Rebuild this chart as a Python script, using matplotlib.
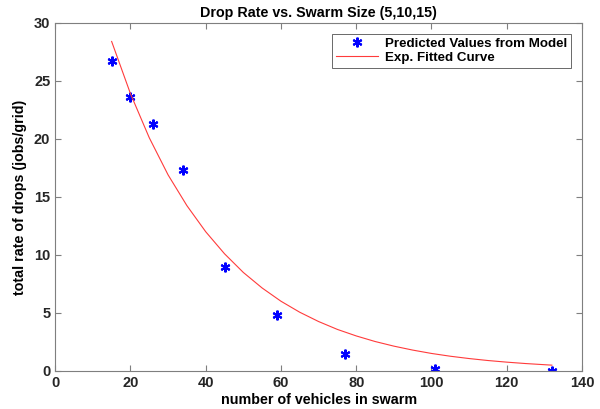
import numpy as np
import matplotlib.pyplot as plt

# predicted values
swarm_size = [15, 20, 26, 34, 45, 59, 77, 101, 132]
drop_rate = [26.7, 23.6, 21.3, 17.3, 8.95, 4.8, 1.44, 0.2, 0.02]

# fitted exponential curve, sampled off the figure
fit_x = [15, 20, 25, 30, 35, 40, 45, 50, 55, 60, 65, 70, 75, 80,
         85, 90, 95, 100, 105, 110, 115, 120, 125, 132]
fit_y = [28.4, 23.9, 20.1, 16.9, 14.25, 12.0, 10.1, 8.49, 7.15, 6.01, 5.06, 4.26,
         3.58, 3.02, 2.54, 2.14, 1.80, 1.51, 1.27, 1.07, 0.90, 0.76, 0.64, 0.50]

plt.rcParams['font.family'] = ['Liberation Sans', 'DejaVu Sans']
plt.rcParams['font.weight'] = 'bold'
plt.rcParams['font.size'] = 10

fig = plt.figure(figsize=(6, 4.09), dpi=100)
ax = fig.add_axes([0.092, 0.093, 0.878, 0.851])

ax.plot(swarm_size, drop_rate, linestyle='none', marker=(6, 2, 0), markersize=7,
        markeredgewidth=1.5, color='#0000ff', label='Predicted Values from Model')
ax.plot(fit_x, fit_y, color='#ff3b3b', linewidth=0.8, label='Exp. Fitted Curve')

ax.set_xlim(0, 140)
ax.set_ylim(0, 30)
ax.set_xticks(np.arange(0, 141, 20))
ax.set_yticks(np.arange(0, 31, 5))

for s in ax.spines.values():
    s.set_color('#7f7f7f')
    s.set_linewidth(0.8)
ax.tick_params(direction='in', top=True, right=True, length=4, width=0.8,
               color='#7f7f7f', labelcolor='#262626', labelsize=10.5)

ax.set_title('Drop Rate vs. Swarm Size (5,10,15)', fontsize=10.3, fontweight='bold', pad=4)
ax.set_xlabel('number of vehicles in swarm', fontsize=10.3, fontweight='bold', labelpad=2)
ax.set_ylabel('total rate of drops (jobs/grid)', fontsize=10.3, fontweight='bold', labelpad=5)

leg = ax.legend(loc='upper right', fontsize=9.6, frameon=True, fancybox=False,
                borderpad=0.3, handlelength=3.2, handletextpad=0.5,
                labelspacing=0.1, borderaxespad=0.8)
leg.get_frame().set_edgecolor('#262626')
leg.get_frame().set_linewidth(0.6)

fig.savefig('out.png', dpi=100)
